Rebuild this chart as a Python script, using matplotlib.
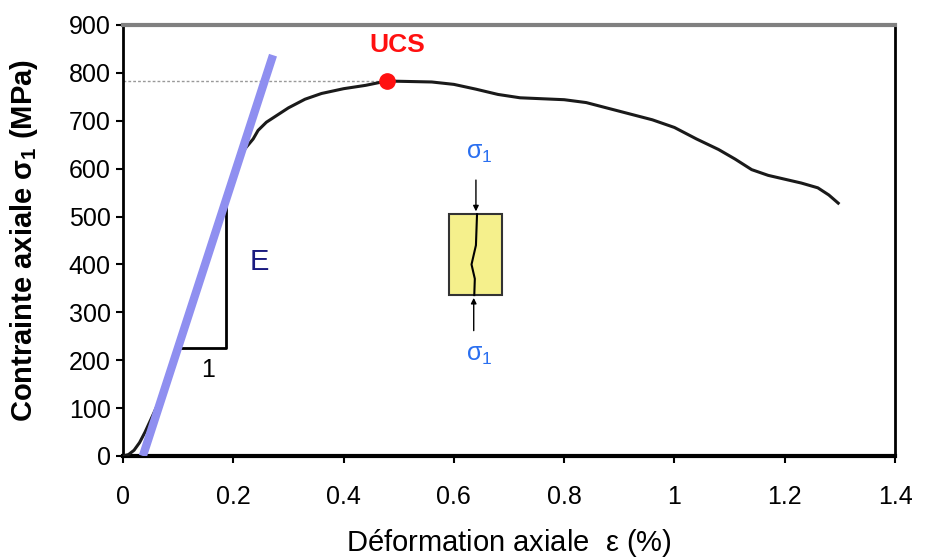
import matplotlib.pyplot as plt
from matplotlib.patches import Rectangle

plt.rcParams['font.family'] = ['Liberation Sans', 'DejaVu Sans']

# courbe contrainte-deformation
strain = [0, 0.01, 0.02, 0.03, 0.04, 0.05, 0.07, 0.10, 0.13, 0.16, 0.19, 0.22, 0.236,
          0.245, 0.26, 0.28, 0.30, 0.33, 0.36, 0.40, 0.44, 0.478, 0.52, 0.56, 0.60, 0.64, 0.68,
          0.72, 0.76, 0.80, 0.84, 0.88, 0.92, 0.96, 1.00, 1.04, 1.08, 1.11, 1.14, 1.17,
          1.20, 1.23, 1.26, 1.28, 1.297]
stress = [0, 3, 12, 28, 50, 75, 125, 225, 330, 440, 545, 640, 662,
          680, 697, 712, 727, 745, 757, 767, 774, 783, 782, 781, 776, 766, 755,
          748, 746, 744, 738, 726, 714, 702, 686, 662, 640, 620, 598, 586,
          578, 570, 560, 545, 528]

ucs = (0.478, 783)
e_line_x = [0.036, 0.272]
e_line_y = [0, 837]
slope_x = [0.103, 0.187, 0.187]
slope_y = [225, 225, 520]

xticks = [0, 0.2, 0.4, 0.6, 0.8, 1, 1.2, 1.4]
xlabels = ['0', '0.2', '0.4', '0.6', '0.8', '1', '1.2', '1.4']
yticks = list(range(0, 901, 100))

fig = plt.figure(figsize=(9.27, 5.58), dpi=100)
ax = fig.add_axes([0.1327, 0.1828, 0.8328, 0.7724])

ax.plot(strain, stress, color='#1a1a1a', lw=2.2, zorder=3)
ax.plot(e_line_x, e_line_y, color='#8f8ff0', lw=6, solid_capstyle='butt', zorder=4)
ax.plot([0, ucs[0]], [ucs[1], ucs[1]], color='#999999', lw=1, ls=(0, (2, 1.5)), zorder=2)
ax.plot(*ucs, 'o', color='#ff1010', ms=11, zorder=5)
ax.text(ucs[0] + 0.02, 858, 'UCS', color='#ff1010', fontsize=19, fontweight='bold',
        ha='center', va='center')

# triangle de pente
ax.plot(slope_x, slope_y, color='black', lw=2, zorder=2)
ax.text(0.155, 180, '1', fontsize=18, ha='center', va='center')
ax.text(0.248, 405, 'E', color='#1a1a80', fontsize=21, ha='center', va='center')

# eprouvette
ax.add_patch(Rectangle((0.591, 336), 0.096, 169, facecolor='#f5f08c', edgecolor='#333333',
                       lw=1.5, zorder=3))
ax.plot([0.642, 0.640, 0.632, 0.638, 0.637], [505, 440, 400, 370, 336],
        color='black', lw=1.5, zorder=4)
ax.annotate('', xy=(0.640, 505), xytext=(0.640, 582),
            arrowprops=dict(arrowstyle='-|>', color='black', lw=1, mutation_scale=8))
ax.annotate('', xy=(0.636, 336), xytext=(0.636, 256),
            arrowprops=dict(arrowstyle='-|>', color='black', lw=1, mutation_scale=8))
ax.text(0.646, 632, r'$\mathregular{\sigma_1}$', color='#2a6ff0', fontsize=18,
        ha='center', va='center')
ax.text(0.646, 211, r'$\mathregular{\sigma_1}$', color='#2a6ff0', fontsize=18,
        ha='center', va='center')

ax.set_xlim(0, 1.4)
ax.set_ylim(0, 900)
ax.set_xticks(xticks)
ax.set_xticklabels(xlabels)
ax.set_yticks(yticks)
ax.tick_params(axis='both', labelsize=18, direction='out', length=5, width=1.5, pad=4)
ax.tick_params(axis='x', pad=16)

ax.spines['left'].set_linewidth(2)
ax.spines['bottom'].set_linewidth(3)
ax.spines['right'].set_linewidth(2)
ax.spines['top'].set_color('#808080')
ax.spines['top'].set_linewidth(3)

ax.set_xlabel(r'Déformation axiale  $\mathregular{\varepsilon}$ (%)', fontsize=21)
ax.xaxis.set_label_coords(0.5, -0.165)
ax.set_ylabel(r'Contrainte axiale $\mathregular{\sigma_1}$ (MPa)', fontsize=21,
              fontweight='bold')
ax.yaxis.set_label_coords(-0.108, 0.5)

fig.savefig('out.png', dpi=100)
